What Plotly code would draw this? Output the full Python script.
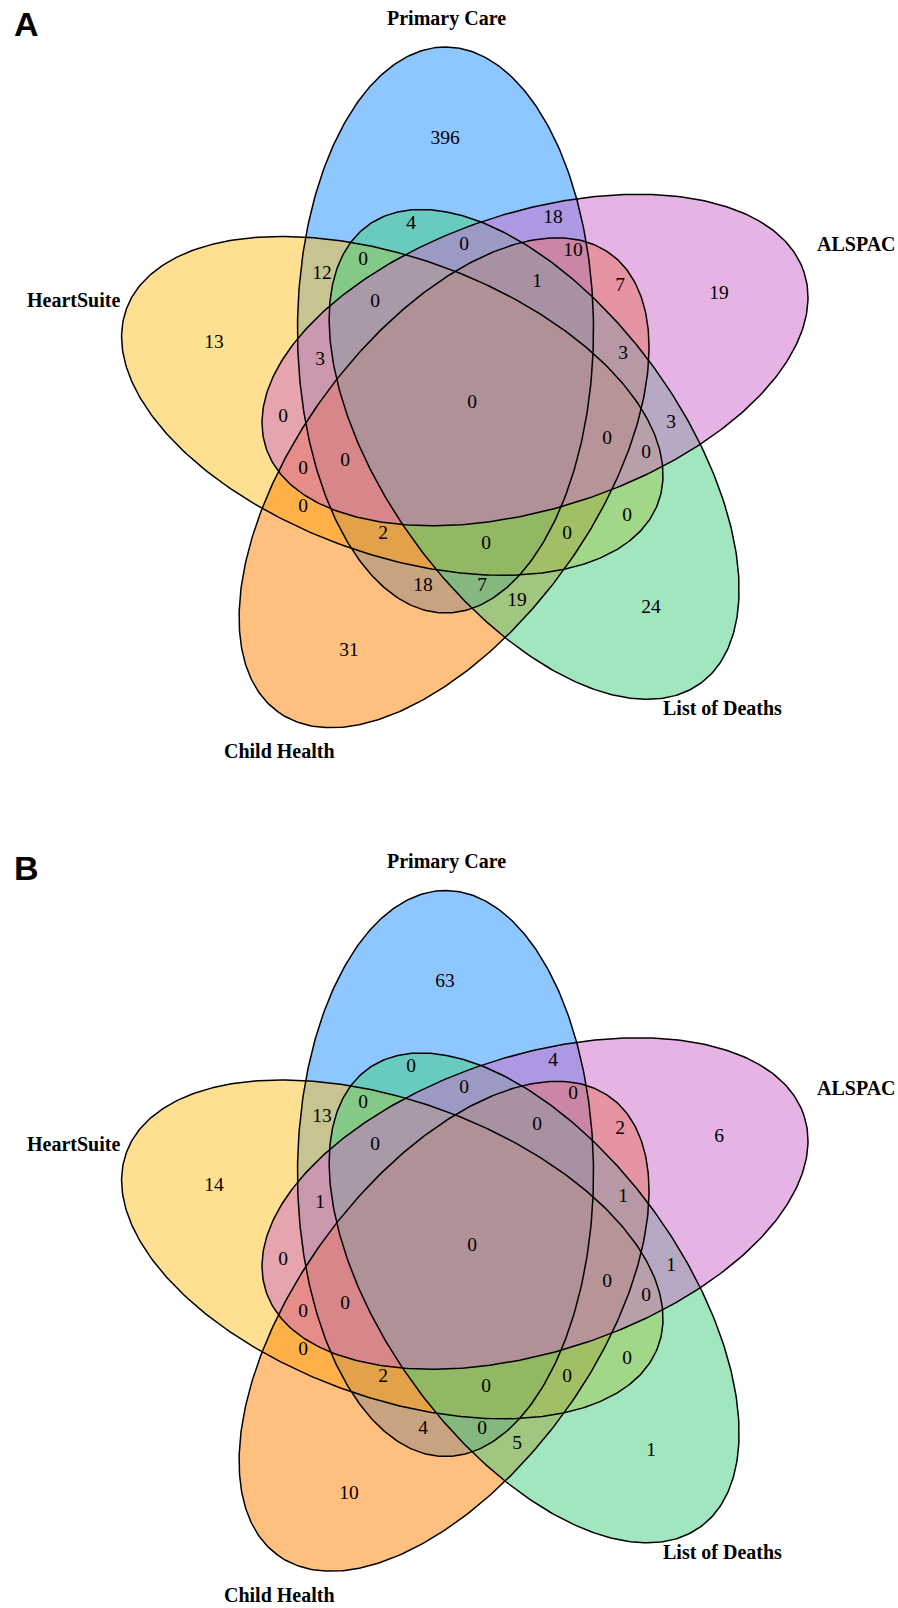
import numpy as np
import plotly.graph_objects as go

# ---------------- data ----------------
panel_letters = ["A", "B"]
set_codes = ["P", "A", "L", "C", "H"]
set_names = ["Primary Care", "ALSPAC", "List of Deaths", "Child Health", "HeartSuite"]

regions = ["P", "H", "A", "L", "C",
           "PH", "PA", "PL", "PC", "HA", "HL", "HC", "AL", "AC", "LC",
           "PHA", "PHL", "PHC", "PAL", "PAC", "PLC", "HAL", "HAC", "HLC", "ALC",
           "PHAL", "PHAC", "PHLC", "PALC", "HALC",
           "PHALC"]

values_A = [396, 13, 19, 24, 31,
            12, 18, 4, 18, 0, 0, 0, 3, 7, 19,
            3, 0, 2, 0, 10, 7, 0, 0, 0, 3,
            0, 0, 0, 1, 0,
            0]

values_B = [63, 14, 6, 1, 10,
            13, 4, 0, 4, 0, 0, 0, 1, 2, 5,
            1, 0, 2, 0, 0, 0, 0, 0, 0, 1,
            0, 0, 0, 0, 0,
            0]

# ---------------- styling / layout ----------------
set_fill = {"P": (30, 144, 255), "H": (255, 193, 37), "C": (255, 127, 0),
            "L": (67, 205, 128), "A": (205, 105, 201)}
fill_order = ["P", "H", "C", "L", "A"]
rot_step = {"P": 0, "A": 1, "L": 2, "C": 3, "H": 4}
angle_tweak = {"H": 2.0}
center_tweak = {"H": (3.0, 0.0)}

CX, CY = 469.6, 406.6          # centre of the 5-fold layout (page px)
OFFX, OFFY = -24.1, -76.6      # offset of the first ellipse centre
SEMI_MAJ, SEMI_MIN = 283.0, 148.0
PANEL_DY = [0.0, 843.5]
W, H = 898, 1608

label_pos = {
    "P": (445, 139), "H": (214, 343), "A": (719, 294), "L": (651, 608), "C": (349, 651),
    "PH": (322, 274), "PA": (553, 218), "PL": (411, 224), "PC": (423, 586),
    "HA": (283, 417), "HL": (627, 516), "HC": (303, 507), "AL": (671, 423),
    "AC": (620, 286), "LC": (517, 601),
    "PHA": (320, 360), "PHL": (363, 260), "PHC": (383, 534), "PAL": (464, 245),
    "PAC": (573, 251), "PLC": (482, 586), "HAL": (646, 453), "HAC": (303, 469),
    "HLC": (567, 534), "ALC": (623, 354),
    "PHAL": (375, 302), "PHAC": (345, 461), "PHLC": (486, 544), "PALC": (537, 282),
    "HALC": (607, 439),
    "PHALC": (472, 403),
}
cat_pos = {"P": (446, 18), "A": (856, 244), "L": (722, 708), "C": (279, 751), "H": (73, 300)}
letter_pos = (26, 24)


def ellipse_xy(code, dy):
    th = np.radians(72 * rot_step[code])
    c, s = np.cos(th), np.sin(th)
    tx, ty = center_tweak.get(code, (0.0, 0.0))
    ecx = CX + OFFX * c - OFFY * s + tx
    ecy = CY + OFFX * s + OFFY * c + dy + ty
    th2 = th + np.radians(angle_tweak.get(code, 0.0))
    c2, s2 = np.cos(th2), np.sin(th2)
    ux, uy = s2, -c2
    vx, vy = c2, s2
    t = np.linspace(0, 2 * np.pi, 400)
    x = ecx + SEMI_MAJ * np.cos(t) * ux + SEMI_MIN * np.sin(t) * vx
    y = ecy + SEMI_MAJ * np.cos(t) * uy + SEMI_MIN * np.sin(t) * vy
    return x, y


fig = go.Figure()
annotations = []

for p, dy in enumerate(PANEL_DY):
    vals = values_A if p == 0 else values_B
    for code in fill_order:
        x, y = ellipse_xy(code, dy)
        r, g, b = set_fill[code]
        fig.add_trace(go.Scatter(x=x, y=y, mode="lines", fill="toself",
                                 fillcolor=f"rgba({r},{g},{b},0.5)",
                                 line=dict(width=0), hoverinfo="skip", showlegend=False))
    for code in fill_order:
        x, y = ellipse_xy(code, dy)
        fig.add_trace(go.Scatter(x=x, y=y, mode="lines",
                                 line=dict(color="black", width=1.5),
                                 hoverinfo="skip", showlegend=False))
    fig.add_trace(go.Scatter(
        x=[label_pos[r][0] for r in regions],
        y=[label_pos[r][1] + dy for r in regions],
        text=[str(v) for v in vals], mode="text", textposition="middle center",
        textfont=dict(family="Liberation Serif", size=19.5, color="black"),
        hoverinfo="skip", showlegend=False))
    for code, name in zip(set_codes, set_names):
        cx, cy = cat_pos[code]
        annotations.append(dict(x=cx, y=cy + dy, xref="x", yref="y", text=f"<b>{name}</b>",
                                showarrow=False, xanchor="center", yanchor="middle",
                                font=dict(family="Liberation Serif", size=20, color="black")))
    annotations.append(dict(x=letter_pos[0], y=letter_pos[1] + dy, xref="x", yref="y",
                            text=f"<b>{panel_letters[p]}</b>", showarrow=False,
                            xanchor="center", yanchor="middle",
                            font=dict(family="Liberation Sans", size=34, color="black")))

fig.update_layout(
    width=W, height=H,
    margin=dict(l=0, r=0, t=0, b=0),
    paper_bgcolor="white", plot_bgcolor="white",
    xaxis=dict(range=[0, W], visible=False, fixedrange=True),
    yaxis=dict(range=[H, 0], visible=False, fixedrange=True),
    annotations=annotations,
    showlegend=False,
)

# remove the browser's default 8 px body margin so the figure fills the window exactly
fig.write_html("out.html", config={"displayModeBar": False},
               post_script="document.body.style.margin='0px';")
